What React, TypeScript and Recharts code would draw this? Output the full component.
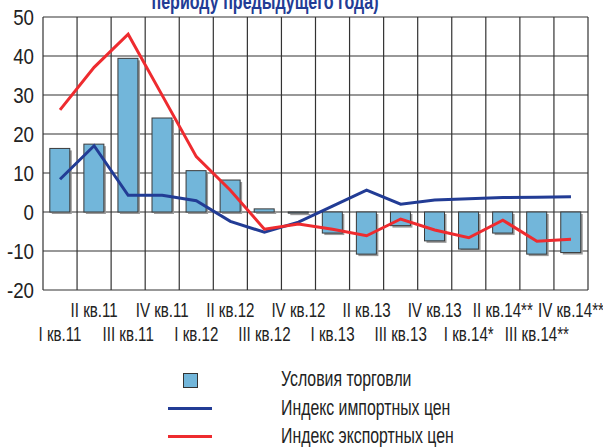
import React from "react";
import { ComposedChart, Bar, Line, XAxis, YAxis, CartesianGrid } from "recharts";

const FONT = '"Liberation Sans", Arial, sans-serif';
const BLUE = "#223c95";
const RED = "#ee2b2f";
const BAR = "#72b6da";

const categories = [
  "I кв.11", "II кв.11", "III кв.11", "IV кв.11",
  "I кв.12", "II кв.12", "III кв.12", "IV кв.12",
  "I кв.13", "II кв.13", "III кв.13", "IV кв.13",
  "I кв.14*", "II кв.14**", "III кв.14**", "IV кв.14**",
];
const tradeTerms = [16.3, 17.4, 39.4, 24.1, 10.6, 8.2, 0.8, -0.3, -5.4, -10.8, -3.5, -7.4, -9.5, -5.4, -10.8, -10.4];
const importIdx = [8.4, 17.0, 4.3, 4.3, 2.9, -2.4, -5.2, -2.6, 1.5, 5.6, 2.0, 3.1, 3.4, 3.7, 3.8, 3.9];
const exportIdx = [26.2, 37.1, 45.6, 29.9, 14.2, 5.6, -4.4, -3.1, -4.4, -6.1, -1.8, -4.6, -6.6, -2.1, -7.5, -7.0];
const yTicks = [-20, -10, 0, 10, 20, 30, 40, 50];

const data = categories.map((name, i) => ({
  name,
  terms: tradeTerms[i],
  imp: importIdx[i],
  exp: exportIdx[i],
}));

// condensed look: squeeze a normal font horizontally
function NarrowText({ x, y, sx, anchor, size, fill, weight, children }: any) {
  return (
    <g transform={`translate(${x},${y}) scale(${sx},1)`}>
      <text x={0} y={0} textAnchor={anchor} fontFamily={FONT} fontSize={size} fontWeight={weight} fill={fill}>
        {children}
      </text>
    </g>
  );
}

function ShadowBar(props: any) {
  const { x, y, width, height } = props;
  const top = Math.min(y, y + height);
  const h = Math.abs(height);
  return (
    <g>
      <rect x={x + 2} y={top + 2} width={width} height={h} fill="#9a9a9a" />
      <rect x={x} y={top} width={width} height={h} fill={BAR} stroke="#3a3a3a" strokeWidth={1} />
    </g>
  );
}

function TwoRowTick(props: any) {
  const { x, y, payload, index } = props;
  const dy = index % 2 === 1 ? 27 : 51;
  return <NarrowText x={x} y={y + dy} sx={0.72} anchor="middle" size={21} fill="#222">{payload.value}</NarrowText>;
}

function YTick(props: any) {
  const { x, y, payload } = props;
  return <NarrowText x={x} y={y + 8} sx={0.85} anchor="end" size={22} fill="#222">{payload.value}</NarrowText>;
}

const legendText: React.CSSProperties = {
  position: "absolute",
  left: 281,
  lineHeight: "28px",
  whiteSpace: "nowrap",
  transform: "scaleX(0.72)",
  transformOrigin: "left center",
};

export default function App() {
  return (
    <div style={{ position: "absolute", left: 0, top: 0, width: 603, height: 447, background: "#fff" }}>
      <ComposedChart
        width={603}
        height={447}
        data={data}
        margin={{ top: 17, right: 15, left: 0, bottom: 97 }}
        barCategoryGap="20%"
      >
        <NarrowText x={265} y={9} sx={0.73} anchor="middle" size={22} weight="bold" fill={BLUE}>
          периоду предыдущего года)
        </NarrowText>
        <CartesianGrid
          stroke="#333"
          strokeWidth={1.2}
          verticalCoordinatesGenerator={({ offset }: any) =>
            Array.from({ length: categories.length + 1 }, (_, i) => offset.left + (i * offset.width) / categories.length)
          }
        />
        <XAxis
          dataKey="name"
          interval={0}
          axisLine={false}
          tickLine={false}
          tickSize={0}
          tickMargin={0}
          height={60}
          tick={<TwoRowTick />}
        />
        <YAxis
          domain={[-20, 50]}
          ticks={yTicks}
          width={43}
          axisLine={false}
          tickLine={false}
          tickSize={0}
          tickMargin={9}
          tick={<YTick />}
        />
        <Bar dataKey="terms" shape={<ShadowBar />} isAnimationActive={false} />
        <Line type="linear" dataKey="imp" stroke={BLUE} strokeWidth={3} dot={false} isAnimationActive={false} />
        <Line type="linear" dataKey="exp" stroke={RED} strokeWidth={3} dot={false} isAnimationActive={false} />
      </ComposedChart>
      <div style={{ position: "absolute", left: 0, top: 0, width: 603, height: 447, pointerEvents: "none", fontFamily: FONT, fontSize: 22, color: "#222" }}>
        <div style={{ position: "absolute", left: 183, top: 373, width: 13, height: 13, background: BAR, border: "1px solid #333" }} />
        <div style={{ position: "absolute", left: 168, top: 407, width: 44, height: 3, background: BLUE }} />
        <div style={{ position: "absolute", left: 168, top: 435, width: 44, height: 3, background: RED }} />
        <div style={{ ...legendText, top: 365 }}>Условия торговли</div>
        <div style={{ ...legendText, top: 394 }}>Индекс импортных цен</div>
        <div style={{ ...legendText, top: 422 }}>Индекс экспортных цен</div>
      </div>
    </div>
  );
}
